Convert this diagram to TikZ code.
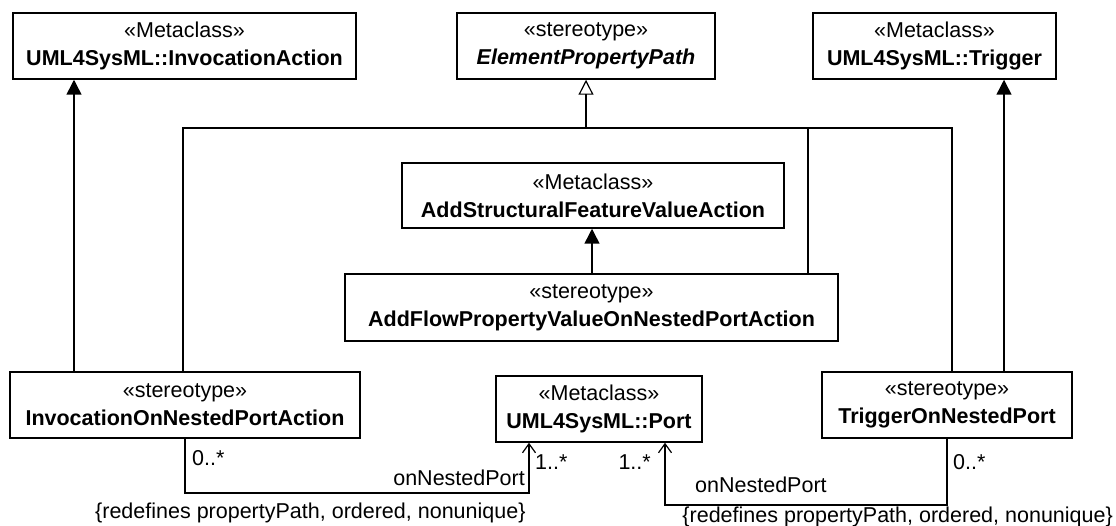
\documentclass[tikz,border=0pt]{standalone}
\usepackage{fontspec}
\setmainfont{Liberation Sans}
\usetikzlibrary{arrows.meta, positioning}
\definecolor{darktext}{HTML}{000000}

\begin{document}
\begin{tikzpicture}[
    x=1pt, y=-1pt,
    box/.style={rectangle, draw=darktext, line width=1.5pt, fill=white,
                minimum width=#1, minimum height=66pt, align=center,
                inner sep=0pt, font=\fontsize{21.5}{28}\selectfont},
    line/.style={line width=1.5pt, color=darktext},
    extends/.style={line, -{Triangle[length=15pt, width=15pt]}},
    generalizes/.style={line, -{Triangle[open, length=15pt, width=15pt, line width=1.2pt]}},
    assoc/.style={line, -{Straight Barb[length=9pt, width=13pt, line width=1.2pt]}},
    label/.style={font=\fontsize{21.5}{24}\selectfont, text=darktext, inner sep=0pt}
]
\useasboundingbox (0,0) rectangle (1116,526);

% Top row
\node[box=343pt] (invact) at (184.5,46) {«Metaclass»\\\textbf{UML4SysML::InvocationAction}};
\node[box=258pt] (epp) at (586,46) {«stereotype»\\\textbf{\itshape ElementPropertyPath}};
\node[box=243pt] (trig) at (934.5,46) {«Metaclass»\\\textbf{UML4SysML::Trigger}};

% Middle
\node[box=382pt, minimum height=65pt] (asfva) at (593,195.5) {«Metaclass»\\\textbf{AddStructuralFeatureValueAction}};
\node[box=493pt, minimum height=67pt] (afpv) at (591.5,307.5) {«stereotype»\\\textbf{AddFlowPropertyValueOnNestedPortAction}};

% Bottom row
\node[box=350pt] (ionpa) at (185,405) {«stereotype»\\\textbf{InvocationOnNestedPortAction}};
\node[box=206pt] (port) at (599,409) {«Metaclass»\\\textbf{UML4SysML::Port}};
\node[box=250pt] (tonp) at (947,405) {«stereotype»\\\textbf{TriggerOnNestedPort}};

% Extensions
\draw[extends] (ionpa.north -| 74,0) -- (invact.south -| 74,0);
\draw[extends] (tonp.north -| 1004,0) -- (trig.south -| 1004,0);
\draw[extends] (afpv.north -| 592,0) -- (asfva.south -| 592,0);

% Generalization tree
\coordinate (busL) at (183,128);
\coordinate (busR) at (952,128);
\draw[line] (ionpa.north -| busL) -- (busL) -- (busR) -- (tonp.north -| busR);
\draw[line] (afpv.north -| 808,0) -- (808,128);
\draw[generalizes] (epp.south |- busL) -- (epp.south);

% Associations
\draw[assoc] (ionpa.south) -- ++(0,54) -| ([xshift=-70pt]port.south);
\draw[assoc] (tonp.south) -- ++(0,66) -| ([xshift=66pt]port.south);

% Labels
\node[label, anchor=west] at (192,458) {0..*};
\node[label, anchor=east] at (525,478) {onNestedPort};
\node[label, anchor=west] at (535,462) {1..*};
\node[label, anchor=east] at (651,462) {1..*};
\node[label, anchor=west] at (695,485) {onNestedPort};
\node[label, anchor=west] at (953,462) {0..*};
\node[label, anchor=west] at (95,513) {\{redefines propertyPath, ordered, nonunique\}};
\node[label, anchor=east] at (1113,517) {\{redefines propertyPath, ordered, nonunique\}};

\end{tikzpicture}
\end{document}
